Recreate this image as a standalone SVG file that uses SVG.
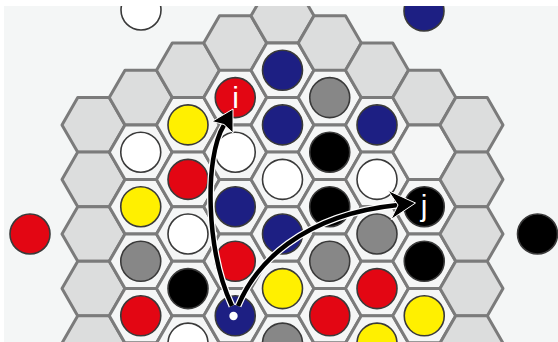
<svg xmlns="http://www.w3.org/2000/svg" xmlns:xlink="http://www.w3.org/1999/xlink" width="558" height="342" viewBox="0 0 558 342">
<style>
.ring{fill:#dcdddd;stroke:#7b7b7b;stroke-width:3;stroke-linejoin:round}
.in{fill:#f5f6f6;stroke:#7b7b7b;stroke-width:3;stroke-linejoin:round}
.d{stroke:#3a3a3a;stroke-width:1.6}
.w{fill:#ffffff}.k{fill:#000000}.r{fill:#e30613}.b{fill:#1d1f83}.y{fill:#fff000}.g{fill:#878787}
.halo{fill:none;stroke:#ffffff;stroke-width:7;stroke-linecap:butt}
.shaft{fill:none;stroke:#000000;stroke-width:4.5;stroke-linecap:butt}
.head{fill:#000000;stroke:#ffffff;stroke-width:1;stroke-linejoin:miter}
.lbl{font-family:"Liberation Sans",Arial,sans-serif;font-size:30px;fill:#ffffff;text-anchor:middle}
</style>
<defs>
<path id="hx" d="M-31.5,0 L-15.75,-27.28 L15.75,-27.28 L31.5,0 L15.75,27.28 L-15.75,27.28Z"/>
<clipPath id="clip"><rect x="4" y="6" width="554" height="336"/></clipPath>
</defs>
<rect x="0" y="0" width="558" height="342" fill="#ffffff"/>
<g clip-path="url(#clip)">
<rect x="4" y="6" width="554" height="336" fill="#f4f6f6"/>
<g id="board">
<use xlink:href="#hx" x="93.5" y="124.9" class="ring"/>
<use xlink:href="#hx" x="93.5" y="179.4" class="ring"/>
<use xlink:href="#hx" x="93.5" y="234" class="ring"/>
<use xlink:href="#hx" x="93.5" y="288.6" class="ring"/>
<use xlink:href="#hx" x="93.5" y="343.1" class="ring"/>
<use xlink:href="#hx" x="140.75" y="97.6" class="ring"/>
<use xlink:href="#hx" x="140.75" y="152.2" class="in"/>
<use xlink:href="#hx" x="140.75" y="206.7" class="in"/>
<use xlink:href="#hx" x="140.75" y="261.3" class="in"/>
<use xlink:href="#hx" x="140.75" y="315.8" class="in"/>
<use xlink:href="#hx" x="140.75" y="370.4" class="ring"/>
<use xlink:href="#hx" x="188" y="70.3" class="ring"/>
<use xlink:href="#hx" x="188" y="124.9" class="in"/>
<use xlink:href="#hx" x="188" y="179.4" class="in"/>
<use xlink:href="#hx" x="188" y="234" class="in"/>
<use xlink:href="#hx" x="188" y="288.6" class="in"/>
<use xlink:href="#hx" x="188" y="343.1" class="in"/>
<use xlink:href="#hx" x="235.25" y="43.1" class="ring"/>
<use xlink:href="#hx" x="235.25" y="97.6" class="in"/>
<use xlink:href="#hx" x="235.25" y="152.2" class="in"/>
<use xlink:href="#hx" x="235.25" y="206.7" class="in"/>
<use xlink:href="#hx" x="235.25" y="261.3" class="in"/>
<use xlink:href="#hx" x="235.25" y="315.8" class="in"/>
<use xlink:href="#hx" x="235.25" y="370.4" class="in"/>
<use xlink:href="#hx" x="282.5" y="15.8" class="ring"/>
<use xlink:href="#hx" x="282.5" y="70.3" class="in"/>
<use xlink:href="#hx" x="282.5" y="124.9" class="in"/>
<use xlink:href="#hx" x="282.5" y="179.4" class="in"/>
<use xlink:href="#hx" x="282.5" y="234" class="in"/>
<use xlink:href="#hx" x="282.5" y="288.6" class="in"/>
<use xlink:href="#hx" x="282.5" y="343.1" class="in"/>
<use xlink:href="#hx" x="329.75" y="43.1" class="ring"/>
<use xlink:href="#hx" x="329.75" y="97.6" class="in"/>
<use xlink:href="#hx" x="329.75" y="152.2" class="in"/>
<use xlink:href="#hx" x="329.75" y="206.7" class="in"/>
<use xlink:href="#hx" x="329.75" y="261.3" class="in"/>
<use xlink:href="#hx" x="329.75" y="315.8" class="in"/>
<use xlink:href="#hx" x="329.75" y="370.4" class="in"/>
<use xlink:href="#hx" x="377" y="70.3" class="ring"/>
<use xlink:href="#hx" x="377" y="124.9" class="in"/>
<use xlink:href="#hx" x="377" y="179.4" class="in"/>
<use xlink:href="#hx" x="377" y="234" class="in"/>
<use xlink:href="#hx" x="377" y="288.6" class="in"/>
<use xlink:href="#hx" x="377" y="343.1" class="in"/>
<use xlink:href="#hx" x="424.25" y="97.6" class="ring"/>
<use xlink:href="#hx" x="424.25" y="152.2" class="in"/>
<use xlink:href="#hx" x="424.25" y="206.7" class="in"/>
<use xlink:href="#hx" x="424.25" y="261.3" class="in"/>
<use xlink:href="#hx" x="424.25" y="315.8" class="in"/>
<use xlink:href="#hx" x="424.25" y="370.4" class="ring"/>
<use xlink:href="#hx" x="471.5" y="124.9" class="ring"/>
<use xlink:href="#hx" x="471.5" y="179.4" class="ring"/>
<use xlink:href="#hx" x="471.5" y="234" class="ring"/>
<use xlink:href="#hx" x="471.5" y="288.6" class="ring"/>
<use xlink:href="#hx" x="471.5" y="343.1" class="ring"/>
</g>
<g id="discs">
<g id="p-c1-1"><circle class="d w" cx="140.75" cy="152.2" r="20"/></g>
<g id="p-c1-2"><circle class="d y" cx="140.75" cy="206.7" r="20"/></g>
<g id="p-c1-3"><circle class="d g" cx="140.75" cy="261.3" r="20"/></g>
<g id="p-c1-4"><circle class="d r" cx="140.75" cy="315.8" r="20"/></g>
<g id="p-c2-1"><circle class="d y" cx="188" cy="124.9" r="20"/></g>
<g id="p-c2-2"><circle class="d r" cx="188" cy="179.4" r="20"/></g>
<g id="p-c2-3"><circle class="d w" cx="188" cy="234" r="20"/></g>
<g id="p-c2-4"><circle class="d k" cx="188" cy="288.6" r="20"/></g>
<g id="p-c2-5"><circle class="d w" cx="188" cy="343.1" r="20"/></g>
<g id="node-i"><circle class="d r" cx="235.25" cy="97.6" r="20"/><text class="lbl" x="235.5" y="108">i</text></g>
<g id="p-c3-2"><circle class="d w" cx="235.25" cy="152.2" r="20"/></g>
<g id="p-c3-3"><circle class="d b" cx="235.25" cy="206.7" r="20"/></g>
<g id="p-c3-4"><circle class="d r" cx="235.25" cy="261.3" r="20"/></g>
<g id="node-src"><circle class="d b" cx="235.25" cy="315.8" r="20"/><circle cx="233.5" cy="316" r="4.2" fill="#ffffff"/></g>
<g id="p-c4-1"><circle class="d b" cx="282.5" cy="70.3" r="20"/></g>
<g id="p-c4-2"><circle class="d b" cx="282.5" cy="124.9" r="20"/></g>
<g id="p-c4-3"><circle class="d w" cx="282.5" cy="179.4" r="20"/></g>
<g id="p-c4-4"><circle class="d b" cx="282.5" cy="234" r="20"/></g>
<g id="p-c4-5"><circle class="d y" cx="282.5" cy="288.6" r="20"/></g>
<g id="p-c4-6"><circle class="d g" cx="282.5" cy="343.1" r="20"/></g>
<g id="p-c5-1"><circle class="d g" cx="329.75" cy="97.6" r="20"/></g>
<g id="p-c5-2"><circle class="d k" cx="329.75" cy="152.2" r="20"/></g>
<g id="p-c5-3"><circle class="d k" cx="329.75" cy="206.7" r="20"/></g>
<g id="p-c5-4"><circle class="d g" cx="329.75" cy="261.3" r="20"/></g>
<g id="p-c5-5"><circle class="d r" cx="329.75" cy="315.8" r="20"/></g>
<g id="p-c6-1"><circle class="d b" cx="377" cy="124.9" r="20"/></g>
<g id="p-c6-2"><circle class="d w" cx="377" cy="179.4" r="20"/></g>
<g id="p-c6-3"><circle class="d g" cx="377" cy="234" r="20"/></g>
<g id="p-c6-4"><circle class="d r" cx="377" cy="288.6" r="20"/></g>
<g id="p-c6-5"><circle class="d y" cx="377" cy="343.1" r="20"/></g>
<g id="node-j"><circle class="d k" cx="424.25" cy="206.7" r="20"/><text class="lbl" x="424" y="216">j</text></g>
<g id="p-c7-3"><circle class="d k" cx="424.25" cy="261.3" r="20"/></g>
<g id="p-c7-4"><circle class="d y" cx="424.25" cy="315.8" r="20"/></g>
<g id="p-out-left"><circle class="d r" cx="30" cy="234" r="20"/></g>
<g id="p-out-right"><circle class="d k" cx="537.5" cy="234" r="20"/></g>
<g id="p-out-top-left"><circle class="d w" cx="141" cy="10" r="20"/></g>
<g id="p-out-top-right"><circle class="d b" cx="424" cy="11" r="20"/></g>
</g>
<g id="connectors">
<path class="halo" d="M232,306 C206,250 204,158 224,125"/>
<path class="shaft" d="M232,306 C206,250 204,158 224,125"/>
<path class="head" d="M233,109 L212,121.5 L224,124.5 L233,133Z"/>
<path class="halo" d="M238,306 C255,265 300,215 398,205"/>
<path class="shaft" d="M238,306 C255,265 300,215 398,205"/>
<path class="head" d="M415.5,203 L388,190.5 L398,205 L391,219.5Z"/>
</g>
</g>
</svg>
